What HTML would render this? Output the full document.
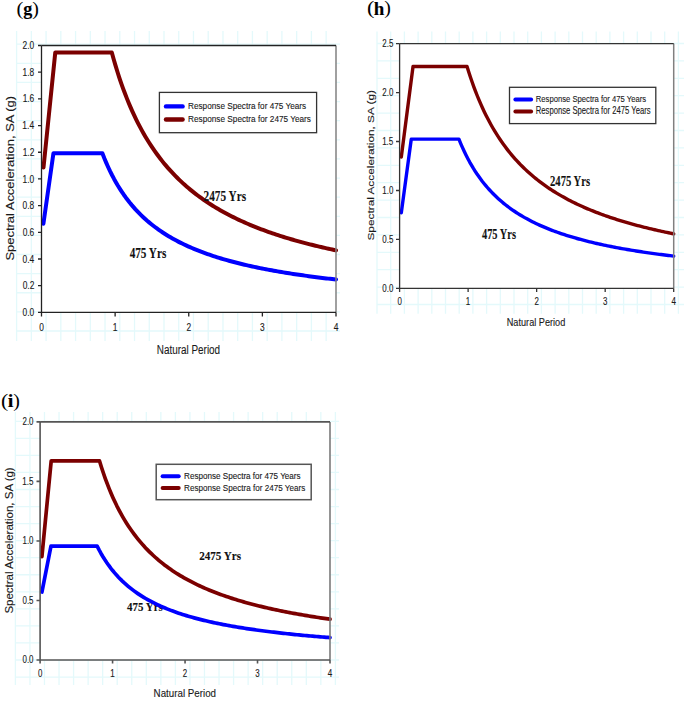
<!DOCTYPE html>
<html><head><meta charset="utf-8"><style>
html,body{margin:0;padding:0;background:#fff;}
svg{display:block;}
</style></head><body>
<svg width="685" height="703" viewBox="0 0 685 703">
<defs><filter id="soft" x="0" y="0" width="100%" height="100%" filterUnits="userSpaceOnUse"><feGaussianBlur stdDeviation="0.0"/></filter></defs>
<g>
<rect width="685" height="703" fill="#fff"/>
<path d="M16.6 31V341M31.34 31V341M46.08 31V341M60.82 31V341M75.56 31V341M90.3 31V341M105.04 31V341M119.78 31V341M134.52 31V341M149.26 31V341M164 31V341M178.74 31V341M193.48 31V341M208.22 31V341M222.96 31V341M237.7 31V341M252.44 31V341M267.18 31V341M281.92 31V341M296.66 31V341M311.4 31V341M326.14 31V341M16 44.2H340M16 63.32H340M16 82.44H340M16 101.56H340M16 120.68H340M16 139.8H340M16 158.92H340M16 178.04H340M16 197.16H340M16 216.28H340M16 235.4H340M16 254.52H340M16 273.64H340M16 292.76H340M16 311.88H340M16 331H340" stroke="#e4f9fb" stroke-width="1.3" fill="none"/>
<rect x="41.5" y="45.5" width="294.5" height="266.9" fill="#fff"/>
<text x="16.59" y="14.57" font-family='"Liberation Serif", serif' font-weight="normal" font-size="19.85" textLength="6.87" lengthAdjust="spacingAndGlyphs" fill="#000">(</text>
<text x="23.32" y="14.6" font-family='"Liberation Serif", serif' font-weight="bold" font-size="18.12" textLength="9.05" lengthAdjust="spacingAndGlyphs" fill="#000" stroke="#000" stroke-width="0.12">g</text>
<text x="32.36" y="14.57" font-family='"Liberation Serif", serif' font-weight="normal" font-size="19.85" textLength="6.61" lengthAdjust="spacingAndGlyphs" fill="#000">)</text>
<path d="M43.49 167.61 L55.27 52.57 L111.81 52.57 L113.68 59.30 L115.55 65.68 L117.42 71.76 L119.28 77.53 L121.15 83.04 L123.02 88.30 L124.89 93.32 L126.76 98.12 L128.63 102.72 L130.49 107.12 L132.36 111.34 L134.23 115.39 L136.10 119.28 L137.97 123.02 L139.84 126.62 L141.70 130.08 L143.57 133.42 L145.44 136.64 L147.31 139.74 L149.18 142.74 L151.04 145.63 L152.91 148.43 L154.78 151.13 L156.65 153.75 L158.52 156.28 L160.39 158.73 L162.25 161.11 L164.12 163.41 L165.99 165.65 L167.86 167.82 L169.73 169.93 L171.60 171.97 L173.46 173.96 L175.33 175.89 L177.20 177.77 L179.07 179.60 L180.94 181.38 L182.80 183.11 L184.67 184.80 L186.54 186.44 L188.41 188.04 L190.28 189.61 L192.15 191.13 L194.01 192.61 L195.88 194.06 L197.75 195.48 L199.62 196.86 L201.49 198.21 L203.36 199.53 L205.22 200.82 L207.09 202.07 L208.96 203.31 L210.83 204.51 L212.70 205.69 L214.56 206.84 L216.43 207.97 L218.30 209.07 L220.17 210.15 L222.04 211.21 L223.91 212.24 L225.77 213.26 L227.64 214.26 L229.51 215.23 L231.38 216.19 L233.25 217.12 L235.12 218.04 L236.98 218.94 L238.85 219.83 L240.72 220.70 L242.59 221.55 L244.46 222.39 L246.32 223.21 L248.19 224.01 L250.06 224.80 L251.93 225.58 L253.80 226.35 L255.67 227.10 L257.53 227.83 L259.40 228.56 L261.27 229.27 L263.14 229.97 L265.01 230.66 L266.88 231.34 L268.74 232.01 L270.61 232.66 L272.48 233.31 L274.35 233.94 L276.22 234.57 L278.08 235.18 L279.95 235.79 L281.82 236.38 L283.69 236.97 L285.56 237.55 L287.43 238.11 L289.29 238.67 L291.16 239.23 L293.03 239.77 L294.90 240.30 L296.77 240.83 L298.64 241.35 L300.50 241.86 L302.37 242.37 L304.24 242.87 L306.11 243.36 L307.98 243.84 L309.84 244.32 L311.71 244.79 L313.58 245.25 L315.45 245.71 L317.32 246.16 L319.19 246.61 L321.05 247.05 L322.92 247.48 L324.79 247.91 L326.66 248.33 L328.53 248.75 L330.40 249.16 L332.26 249.57 L334.13 249.97 L336.00 250.37" stroke="#7b0000" stroke-width="4.0" fill="none" stroke-linejoin="round" stroke-linecap="round"/>
<path d="M43.41 223.79 L53.43 153.33 L102.39 153.33 L104.33 158.26 L106.28 162.89 L108.23 167.25 L110.17 171.36 L112.12 175.25 L114.07 178.93 L116.02 182.42 L117.96 185.73 L119.91 188.87 L121.86 191.87 L123.80 194.72 L125.75 197.44 L127.70 200.03 L129.64 202.51 L131.59 204.89 L133.54 207.16 L135.48 209.34 L137.43 211.43 L139.38 213.44 L141.32 215.37 L143.27 217.23 L145.22 219.02 L147.16 220.74 L149.11 222.39 L151.06 223.99 L153.00 225.54 L154.95 227.03 L156.90 228.47 L158.84 229.86 L160.79 231.21 L162.74 232.51 L164.68 233.77 L166.63 235.00 L168.58 236.18 L170.52 237.33 L172.47 238.45 L174.42 239.53 L176.37 240.58 L178.31 241.61 L180.26 242.60 L182.21 243.56 L184.15 244.50 L186.10 245.42 L188.05 246.31 L189.99 247.17 L191.94 248.02 L193.89 248.84 L195.83 249.64 L197.78 250.42 L199.73 251.19 L201.67 251.93 L203.62 252.66 L205.57 253.37 L207.51 254.06 L209.46 254.73 L211.41 255.39 L213.35 256.04 L215.30 256.67 L217.25 257.29 L219.19 257.89 L221.14 258.48 L223.09 259.06 L225.03 259.63 L226.98 260.18 L228.93 260.72 L230.87 261.25 L232.82 261.78 L234.77 262.29 L236.71 262.79 L238.66 263.27 L240.61 263.76 L242.56 264.23 L244.50 264.69 L246.45 265.14 L248.40 265.59 L250.34 266.02 L252.29 266.45 L254.24 266.87 L256.18 267.28 L258.13 267.69 L260.08 268.09 L262.02 268.48 L263.97 268.86 L265.92 269.24 L267.86 269.61 L269.81 269.98 L271.76 270.34 L273.70 270.69 L275.65 271.04 L277.60 271.38 L279.54 271.71 L281.49 272.04 L283.44 272.37 L285.38 272.69 L287.33 273.00 L289.28 273.31 L291.22 273.61 L293.17 273.91 L295.12 274.21 L297.06 274.50 L299.01 274.79 L300.96 275.07 L302.90 275.35 L304.85 275.62 L306.80 275.89 L308.75 276.16 L310.69 276.42 L312.64 276.68 L314.59 276.93 L316.53 277.18 L318.48 277.43 L320.43 277.68 L322.37 277.92 L324.32 278.15 L326.27 278.39 L328.21 278.62 L330.16 278.85 L332.11 279.07 L334.05 279.29 L336.00 279.51" stroke="#0000ff" stroke-width="4.0" fill="none" stroke-linejoin="round" stroke-linecap="round"/>
<text x="203.53" y="200.5" font-family='"Liberation Serif", serif' font-weight="bold" font-size="15.41" textLength="42.54" lengthAdjust="spacingAndGlyphs" fill="#111" stroke="#111" stroke-width="0.12">2475 Yrs</text>
<text x="129.65" y="257.9" font-family='"Liberation Serif", serif' font-weight="bold" font-size="15.5" textLength="36.62" lengthAdjust="spacingAndGlyphs" fill="#111" stroke="#111" stroke-width="0.12">475 Yrs</text>
<path d="M336 45.5V312.4" stroke="#808080" stroke-width="1.5"/>
<path d="M41.5 45.5H336M41.5 45.5V312.4H336" stroke="#222" stroke-width="1.3" fill="none"/>
<text x="22.59" y="316" font-family='"Liberation Sans", sans-serif' font-weight="normal" font-size="10.6" textLength="11.64" lengthAdjust="spacingAndGlyphs" fill="#1a1a1a" stroke="#1a1a1a" stroke-width="0.12">0.0</text>
<text x="22.68" y="289.31" font-family='"Liberation Sans", sans-serif' font-weight="normal" font-size="10.6" textLength="11.64" lengthAdjust="spacingAndGlyphs" fill="#1a1a1a" stroke="#1a1a1a" stroke-width="0.12">0.2</text>
<text x="22.51" y="262.62" font-family='"Liberation Sans", sans-serif' font-weight="normal" font-size="10.6" textLength="11.64" lengthAdjust="spacingAndGlyphs" fill="#1a1a1a" stroke="#1a1a1a" stroke-width="0.12">0.4</text>
<text x="22.63" y="235.93" font-family='"Liberation Sans", sans-serif' font-weight="normal" font-size="10.6" textLength="11.64" lengthAdjust="spacingAndGlyphs" fill="#1a1a1a" stroke="#1a1a1a" stroke-width="0.12">0.6</text>
<text x="22.62" y="209.24" font-family='"Liberation Sans", sans-serif' font-weight="normal" font-size="10.6" textLength="11.64" lengthAdjust="spacingAndGlyphs" fill="#1a1a1a" stroke="#1a1a1a" stroke-width="0.12">0.8</text>
<text x="22.59" y="182.55" font-family='"Liberation Sans", sans-serif' font-weight="normal" font-size="10.6" textLength="11.64" lengthAdjust="spacingAndGlyphs" fill="#1a1a1a" stroke="#1a1a1a" stroke-width="0.12">1.0</text>
<text x="22.68" y="155.86" font-family='"Liberation Sans", sans-serif' font-weight="normal" font-size="10.6" textLength="11.64" lengthAdjust="spacingAndGlyphs" fill="#1a1a1a" stroke="#1a1a1a" stroke-width="0.12">1.2</text>
<text x="22.34" y="129.17" font-family='"Liberation Sans", sans-serif' font-weight="normal" font-size="10.76" textLength="11.81" lengthAdjust="spacingAndGlyphs" fill="#1a1a1a" stroke="#1a1a1a" stroke-width="0.12">1.4</text>
<text x="22.63" y="102.48" font-family='"Liberation Sans", sans-serif' font-weight="normal" font-size="10.6" textLength="11.64" lengthAdjust="spacingAndGlyphs" fill="#1a1a1a" stroke="#1a1a1a" stroke-width="0.12">1.6</text>
<text x="22.62" y="75.79" font-family='"Liberation Sans", sans-serif' font-weight="normal" font-size="10.6" textLength="11.64" lengthAdjust="spacingAndGlyphs" fill="#1a1a1a" stroke="#1a1a1a" stroke-width="0.12">1.8</text>
<text x="22.59" y="49.1" font-family='"Liberation Sans", sans-serif' font-weight="normal" font-size="10.6" textLength="11.64" lengthAdjust="spacingAndGlyphs" fill="#1a1a1a" stroke="#1a1a1a" stroke-width="0.12">2.0</text>
<text x="39.17" y="330.6" font-family='"Liberation Sans", sans-serif' font-weight="normal" font-size="10.6" textLength="4.66" lengthAdjust="spacingAndGlyphs" fill="#1a1a1a" stroke="#1a1a1a" stroke-width="0.12">0</text>
<text x="112.65" y="330.6" font-family='"Liberation Sans", sans-serif' font-weight="normal" font-size="10.76" textLength="4.73" lengthAdjust="spacingAndGlyphs" fill="#1a1a1a" stroke="#1a1a1a" stroke-width="0.12">1</text>
<text x="186.42" y="330.6" font-family='"Liberation Sans", sans-serif' font-weight="normal" font-size="10.6" textLength="4.66" lengthAdjust="spacingAndGlyphs" fill="#1a1a1a" stroke="#1a1a1a" stroke-width="0.12">2</text>
<text x="260.07" y="330.6" font-family='"Liberation Sans", sans-serif' font-weight="normal" font-size="10.6" textLength="4.66" lengthAdjust="spacingAndGlyphs" fill="#1a1a1a" stroke="#1a1a1a" stroke-width="0.12">3</text>
<text x="333.66" y="330.6" font-family='"Liberation Sans", sans-serif' font-weight="normal" font-size="10.76" textLength="4.73" lengthAdjust="spacingAndGlyphs" fill="#1a1a1a" stroke="#1a1a1a" stroke-width="0.12">4</text>
<path d="M38 312.4H41.5M38 285.71H41.5M38 259.02H41.5M38 232.33H41.5M38 205.64H41.5M38 178.95H41.5M38 152.26H41.5M38 125.57H41.5M38 98.88H41.5M38 72.19H41.5M38 45.5H41.5M41.5 312.4V316.4M115.12 312.4V316.4M188.75 312.4V316.4M262.38 312.4V316.4M336 312.4V316.4" stroke="#222" stroke-width="1.3" fill="none"/>
<text x="156.79" y="353.7" font-family='"Liberation Sans", sans-serif' font-weight="normal" font-size="13.66" textLength="63.35" lengthAdjust="spacingAndGlyphs" fill="#1a1a1a" stroke="#1a1a1a" stroke-width="0.12">Natural Period</text>
<text transform="translate(13.8,260) rotate(-90)" x="-0.58" y="0" font-family='"Liberation Sans", sans-serif' font-size="10.17" textLength="164.68" lengthAdjust="spacingAndGlyphs" fill="#1a1a1a" stroke="#1a1a1a" stroke-width="0.12">Spectral Acceleration, SA (g)</text>
<rect x="159.4" y="92.4" width="157.2" height="40.3" fill="#fff" stroke="#333" stroke-width="1.3"/>
<path d="M166 106.4H182.6" stroke="#0000ff" stroke-width="4.4" stroke-linecap="round"/>
<path d="M166 119.5H182.6" stroke="#7b0000" stroke-width="4.4" stroke-linecap="round"/>
<text x="188.03" y="109" font-family='"Liberation Sans", sans-serif' font-weight="normal" font-size="9.59" textLength="118.16" lengthAdjust="spacingAndGlyphs" fill="#1a1a1a" stroke="#1a1a1a" stroke-width="0.12">Response Spectra for 475 Years</text>
<text x="188.03" y="122.2" font-family='"Liberation Sans", sans-serif' font-weight="normal" font-size="9.59" textLength="122.96" lengthAdjust="spacingAndGlyphs" fill="#1a1a1a" stroke="#1a1a1a" stroke-width="0.12">Response Spectra for 2475 Years</text>
<path d="M377 31.5V313.7M390.7 31.5V313.7M404.4 31.5V313.7M418.1 31.5V313.7M431.8 31.5V313.7M445.5 31.5V313.7M459.2 31.5V313.7M472.9 31.5V313.7M486.6 31.5V313.7M500.3 31.5V313.7M514 31.5V313.7M527.7 31.5V313.7M541.4 31.5V313.7M555.1 31.5V313.7M568.8 31.5V313.7M582.5 31.5V313.7M596.2 31.5V313.7M609.9 31.5V313.7M623.6 31.5V313.7M637.3 31.5V313.7M651 31.5V313.7M664.7 31.5V313.7M678.4 31.5V313.7M376.5 43.5H684M376.5 60.9H684M376.5 78.3H684M376.5 95.7H684M376.5 113.1H684M376.5 130.5H684M376.5 147.9H684M376.5 165.3H684M376.5 182.7H684M376.5 200.1H684M376.5 217.5H684M376.5 234.9H684M376.5 252.3H684M376.5 269.7H684M376.5 287.1H684M376.5 304.5H684" stroke="#e4f9fb" stroke-width="1.3" fill="none"/>
<rect x="399.6" y="43.6" width="274.1" height="244.8" fill="#fff"/>
<text x="367.12" y="14.47" font-family='"Liberation Serif", serif' font-weight="normal" font-size="19.41" textLength="7.39" lengthAdjust="spacingAndGlyphs" fill="#000">(</text>
<text x="373.73" y="14.5" font-family='"Liberation Serif", serif' font-weight="bold" font-size="18.02" textLength="10.56" lengthAdjust="spacingAndGlyphs" fill="#000" stroke="#000" stroke-width="0.12">h</text>
<text x="384.26" y="14.47" font-family='"Liberation Serif", serif' font-weight="normal" font-size="19.41" textLength="6.61" lengthAdjust="spacingAndGlyphs" fill="#000">)</text>
<path d="M401.31 156.99 L413.03 66.51 L467.03 66.51 L468.75 72.04 L470.47 77.30 L472.20 82.31 L473.92 87.08 L475.64 91.64 L477.36 96.00 L479.08 100.17 L480.81 104.16 L482.53 107.99 L484.25 111.66 L485.97 115.18 L487.70 118.57 L489.42 121.82 L491.14 124.96 L492.86 127.98 L494.58 130.89 L496.31 133.69 L498.03 136.40 L499.75 139.01 L501.47 141.54 L503.20 143.98 L504.92 146.34 L506.64 148.63 L508.36 150.84 L510.09 152.98 L511.81 155.06 L513.53 157.08 L515.25 159.03 L516.97 160.93 L518.70 162.77 L520.42 164.57 L522.14 166.31 L523.86 168.00 L525.59 169.64 L527.31 171.25 L529.03 172.80 L530.75 174.32 L532.47 175.80 L534.20 177.24 L535.92 178.65 L537.64 180.02 L539.36 181.35 L541.09 182.65 L542.81 183.93 L544.53 185.17 L546.25 186.38 L547.97 187.56 L549.70 188.72 L551.42 189.85 L553.14 190.96 L554.86 192.04 L556.59 193.10 L558.31 194.13 L560.03 195.14 L561.75 196.13 L563.48 197.10 L565.20 198.05 L566.92 198.98 L568.64 199.89 L570.36 200.79 L572.09 201.66 L573.81 202.52 L575.53 203.36 L577.25 204.18 L578.98 204.99 L580.70 205.78 L582.42 206.56 L584.14 207.33 L585.86 208.08 L587.59 208.81 L589.31 209.53 L591.03 210.24 L592.75 210.94 L594.48 211.63 L596.20 212.30 L597.92 212.96 L599.64 213.61 L601.37 214.25 L603.09 214.87 L604.81 215.49 L606.53 216.10 L608.25 216.70 L609.98 217.28 L611.70 217.86 L613.42 218.43 L615.14 218.99 L616.87 219.54 L618.59 220.08 L620.31 220.61 L622.03 221.14 L623.75 221.65 L625.48 222.16 L627.20 222.66 L628.92 223.16 L630.64 223.64 L632.37 224.12 L634.09 224.59 L635.81 225.06 L637.53 225.52 L639.25 225.97 L640.98 226.42 L642.70 226.86 L644.42 227.29 L646.14 227.72 L647.87 228.14 L649.59 228.55 L651.31 228.96 L653.03 229.36 L654.76 229.76 L656.48 230.16 L658.20 230.54 L659.92 230.93 L661.64 231.30 L663.37 231.68 L665.09 232.05 L666.81 232.41 L668.53 232.77 L670.26 233.12 L671.98 233.47 L673.70 233.82" stroke="#7b0000" stroke-width="3.4" fill="none" stroke-linejoin="round" stroke-linecap="round"/>
<path d="M401.31 212.81 L411.25 139.17 L458.94 139.17 L460.73 143.54 L462.52 147.66 L464.31 151.55 L466.10 155.23 L467.89 158.72 L469.68 162.04 L471.47 165.18 L473.26 168.18 L475.05 171.03 L476.84 173.75 L478.63 176.34 L480.42 178.82 L482.21 181.20 L484.00 183.47 L485.79 185.65 L487.58 187.74 L489.37 189.75 L491.16 191.68 L492.95 193.53 L494.74 195.31 L496.53 197.03 L498.31 198.69 L500.10 200.29 L501.89 201.83 L503.68 203.32 L505.47 204.76 L507.26 206.15 L509.05 207.49 L510.84 208.79 L512.63 210.05 L514.42 211.27 L516.21 212.46 L518.00 213.61 L519.79 214.72 L521.58 215.80 L523.37 216.85 L525.16 217.87 L526.95 218.86 L528.74 219.82 L530.53 220.76 L532.32 221.67 L534.11 222.56 L535.90 223.43 L537.69 224.27 L539.48 225.09 L541.27 225.89 L543.06 226.67 L544.85 227.43 L546.64 228.17 L548.42 228.90 L550.21 229.60 L552.00 230.29 L553.79 230.97 L555.58 231.63 L557.37 232.27 L559.16 232.90 L560.95 233.52 L562.74 234.12 L564.53 234.71 L566.32 235.28 L568.11 235.85 L569.90 236.40 L571.69 236.94 L573.48 237.47 L575.27 237.99 L577.06 238.50 L578.85 239.00 L580.64 239.48 L582.43 239.96 L584.22 240.43 L586.01 240.89 L587.80 241.34 L589.59 241.79 L591.38 242.22 L593.17 242.65 L594.96 243.07 L596.75 243.48 L598.53 243.88 L600.32 244.28 L602.11 244.67 L603.90 245.05 L605.69 245.43 L607.48 245.80 L609.27 246.16 L611.06 246.52 L612.85 246.87 L614.64 247.22 L616.43 247.56 L618.22 247.89 L620.01 248.22 L621.80 248.55 L623.59 248.86 L625.38 249.18 L627.17 249.49 L628.96 249.79 L630.75 250.09 L632.54 250.38 L634.33 250.67 L636.12 250.96 L637.91 251.24 L639.70 251.52 L641.49 251.79 L643.28 252.06 L645.07 252.32 L646.86 252.58 L648.64 252.84 L650.43 253.10 L652.22 253.35 L654.01 253.59 L655.80 253.83 L657.59 254.07 L659.38 254.31 L661.17 254.54 L662.96 254.77 L664.75 255.00 L666.54 255.23 L668.33 255.45 L670.12 255.66 L671.91 255.88 L673.70 256.09" stroke="#0000ff" stroke-width="3.4" fill="none" stroke-linejoin="round" stroke-linecap="round"/>
<text x="550.06" y="186" font-family='"Liberation Serif", serif' font-weight="bold" font-size="13.89" textLength="40.1" lengthAdjust="spacingAndGlyphs" fill="#111" stroke="#111" stroke-width="0.12">2475 Yrs</text>
<text x="481.96" y="238.6" font-family='"Liberation Serif", serif' font-weight="bold" font-size="13.83" textLength="33.99" lengthAdjust="spacingAndGlyphs" fill="#111" stroke="#111" stroke-width="0.12">475 Yrs</text>
<path d="M673.7 43.6V288.4" stroke="#808080" stroke-width="1.5"/>
<path d="M399.6 43.6H673.7M399.6 43.6V288.4H673.7" stroke="#333" stroke-width="1.3" fill="none"/>
<text x="382.3" y="291.8" font-family='"Liberation Sans", sans-serif' font-weight="normal" font-size="10.03" textLength="11.01" lengthAdjust="spacingAndGlyphs" fill="#1a1a1a" stroke="#1a1a1a" stroke-width="0.12">0.0</text>
<text x="382.32" y="242.84" font-family='"Liberation Sans", sans-serif' font-weight="normal" font-size="10.03" textLength="11.01" lengthAdjust="spacingAndGlyphs" fill="#1a1a1a" stroke="#1a1a1a" stroke-width="0.12">0.5</text>
<text x="382.3" y="193.88" font-family='"Liberation Sans", sans-serif' font-weight="normal" font-size="10.03" textLength="11.01" lengthAdjust="spacingAndGlyphs" fill="#1a1a1a" stroke="#1a1a1a" stroke-width="0.12">1.0</text>
<text x="382.16" y="144.92" font-family='"Liberation Sans", sans-serif' font-weight="normal" font-size="10.17" textLength="11.17" lengthAdjust="spacingAndGlyphs" fill="#1a1a1a" stroke="#1a1a1a" stroke-width="0.12">1.5</text>
<text x="382.3" y="95.96" font-family='"Liberation Sans", sans-serif' font-weight="normal" font-size="10.03" textLength="11.01" lengthAdjust="spacingAndGlyphs" fill="#1a1a1a" stroke="#1a1a1a" stroke-width="0.12">2.0</text>
<text x="382.32" y="47" font-family='"Liberation Sans", sans-serif' font-weight="normal" font-size="10.03" textLength="11.01" lengthAdjust="spacingAndGlyphs" fill="#1a1a1a" stroke="#1a1a1a" stroke-width="0.12">2.5</text>
<text x="397.4" y="305" font-family='"Liberation Sans", sans-serif' font-weight="normal" font-size="10.03" textLength="4.4" lengthAdjust="spacingAndGlyphs" fill="#1a1a1a" stroke="#1a1a1a" stroke-width="0.12">0</text>
<text x="465.78" y="305" font-family='"Liberation Sans", sans-serif' font-weight="normal" font-size="10.17" textLength="4.47" lengthAdjust="spacingAndGlyphs" fill="#1a1a1a" stroke="#1a1a1a" stroke-width="0.12">1</text>
<text x="534.45" y="305" font-family='"Liberation Sans", sans-serif' font-weight="normal" font-size="10.03" textLength="4.4" lengthAdjust="spacingAndGlyphs" fill="#1a1a1a" stroke="#1a1a1a" stroke-width="0.12">2</text>
<text x="603" y="305" font-family='"Liberation Sans", sans-serif' font-weight="normal" font-size="10.03" textLength="4.4" lengthAdjust="spacingAndGlyphs" fill="#1a1a1a" stroke="#1a1a1a" stroke-width="0.12">3</text>
<text x="671.49" y="305" font-family='"Liberation Sans", sans-serif' font-weight="normal" font-size="10.17" textLength="4.47" lengthAdjust="spacingAndGlyphs" fill="#1a1a1a" stroke="#1a1a1a" stroke-width="0.12">4</text>
<path d="M396 288.4H399.6M396 239.44H399.6M396 190.48H399.6M396 141.52H399.6M396 92.56H399.6M396 43.6H399.6M399.6 288.4V291.9M468.12 288.4V291.9M536.65 288.4V291.9M605.18 288.4V291.9M673.7 288.4V291.9" stroke="#333" stroke-width="1.3" fill="none"/>
<text x="506.75" y="325.6" font-family='"Liberation Sans", sans-serif' font-weight="normal" font-size="11.34" textLength="58.54" lengthAdjust="spacingAndGlyphs" fill="#1a1a1a" stroke="#1a1a1a" stroke-width="0.12">Natural Period</text>
<text transform="translate(374.1,240) rotate(-90)" x="-0.53" y="0" font-family='"Liberation Sans", sans-serif' font-size="9.45" textLength="150.46" lengthAdjust="spacingAndGlyphs" fill="#1a1a1a" stroke="#1a1a1a" stroke-width="0.12">Spectral Acceleration, SA (g)</text>
<rect x="509.5" y="87.3" width="146.3" height="36.3" fill="#fff" stroke="#333" stroke-width="1.3"/>
<path d="M515.4 99.5H531.1" stroke="#0000ff" stroke-width="4.0" stroke-linecap="round"/>
<path d="M515.4 111.6H531.1" stroke="#7b0000" stroke-width="4.0" stroke-linecap="round"/>
<text x="535.78" y="102.3" font-family='"Liberation Sans", sans-serif' font-weight="normal" font-size="9.88" textLength="110.4" lengthAdjust="spacingAndGlyphs" fill="#1a1a1a" stroke="#1a1a1a" stroke-width="0.12">Response Spectra for 475 Years</text>
<text x="535.77" y="114.2" font-family='"Liberation Sans", sans-serif' font-weight="normal" font-size="10.03" textLength="114.8" lengthAdjust="spacingAndGlyphs" fill="#1a1a1a" stroke="#1a1a1a" stroke-width="0.12">Response Spectra for 2475 Years</text>
<path d="M15.4 412V684.9M29.95 412V684.9M44.49 412V684.9M59.03 412V684.9M73.58 412V684.9M88.12 412V684.9M102.67 412V684.9M117.22 412V684.9M131.76 412V684.9M146.31 412V684.9M160.85 412V684.9M175.4 412V684.9M189.94 412V684.9M204.49 412V684.9M219.03 412V684.9M233.58 412V684.9M248.12 412V684.9M262.66 412V684.9M277.21 412V684.9M291.75 412V684.9M306.3 412V684.9M320.84 412V684.9M335.39 412V684.9M15 421.3H339M15 438.35H339M15 455.4H339M15 472.45H339M15 489.5H339M15 506.55H339M15 523.6H339M15 540.65H339M15 557.7H339M15 574.75H339M15 591.8H339M15 608.85H339M15 625.9H339M15 642.95H339M15 660H339M15 677.05H339" stroke="#e4f9fb" stroke-width="1.3" fill="none"/>
<rect x="40.1" y="421.9" width="289.9" height="238.1" fill="#fff"/>
<text x="0.94" y="406.62" font-family='"Liberation Serif", serif' font-weight="normal" font-size="19.63" textLength="7.26" lengthAdjust="spacingAndGlyphs" fill="#000">(</text>
<text x="7.75" y="406.6" font-family='"Liberation Serif", serif' font-weight="bold" font-size="19.17" textLength="5.64" lengthAdjust="spacingAndGlyphs" fill="#000" stroke="#000" stroke-width="0.12">i</text>
<text x="13.36" y="406.62" font-family='"Liberation Serif", serif' font-weight="normal" font-size="19.63" textLength="6.61" lengthAdjust="spacingAndGlyphs" fill="#000">)</text>
<text x="199.14" y="560.1" font-family='"Liberation Serif", serif' font-weight="bold" font-size="13.14" textLength="41.93" lengthAdjust="spacingAndGlyphs" fill="#111" stroke="#111" stroke-width="0.12">2475 Yrs</text>
<text x="127.05" y="611" font-family='"Liberation Serif", serif' font-weight="bold" font-size="13.37" textLength="35.71" lengthAdjust="spacingAndGlyphs" fill="#111" stroke="#111" stroke-width="0.12">475 Yrs</text>
<path d="M41.91 556.55 L51.19 460.95 L99.53 460.95 L101.45 467.18 L103.37 473.03 L105.29 478.54 L107.21 483.73 L109.13 488.64 L111.05 493.28 L112.97 497.67 L114.89 501.84 L116.81 505.80 L118.74 509.56 L120.66 513.15 L122.58 516.57 L124.50 519.83 L126.42 522.95 L128.34 525.94 L130.26 528.79 L132.18 531.53 L134.10 534.15 L136.02 536.67 L137.94 539.09 L139.86 541.42 L141.78 543.66 L143.70 545.82 L145.62 547.90 L147.54 549.90 L149.46 551.83 L151.39 553.70 L153.31 555.50 L155.23 557.25 L157.15 558.93 L159.07 560.57 L160.99 562.14 L162.91 563.68 L164.83 565.16 L166.75 566.60 L168.67 567.99 L170.59 569.35 L172.51 570.66 L174.43 571.94 L176.35 573.18 L178.27 574.39 L180.19 575.56 L182.11 576.70 L184.04 577.81 L185.96 578.90 L187.88 579.95 L189.80 580.98 L191.72 581.98 L193.64 582.95 L195.56 583.91 L197.48 584.83 L199.40 585.74 L201.32 586.63 L203.24 587.49 L205.16 588.33 L207.08 589.16 L209.00 589.96 L210.92 590.75 L212.84 591.52 L214.76 592.27 L216.69 593.01 L218.61 593.73 L220.53 594.44 L222.45 595.13 L224.37 595.80 L226.29 596.46 L228.21 597.11 L230.13 597.75 L232.05 598.37 L233.97 598.98 L235.89 599.58 L237.81 600.17 L239.73 600.74 L241.65 601.31 L243.57 601.86 L245.49 602.41 L247.41 602.94 L249.34 603.46 L251.26 603.98 L253.18 604.48 L255.10 604.98 L257.02 605.47 L258.94 605.94 L260.86 606.41 L262.78 606.88 L264.70 607.33 L266.62 607.78 L268.54 608.22 L270.46 608.65 L272.38 609.07 L274.30 609.49 L276.22 609.90 L278.14 610.31 L280.06 610.70 L281.99 611.09 L283.91 611.48 L285.83 611.86 L287.75 612.23 L289.67 612.60 L291.59 612.96 L293.51 613.32 L295.43 613.67 L297.35 614.02 L299.27 614.36 L301.19 614.69 L303.11 615.02 L305.03 615.35 L306.95 615.67 L308.87 615.99 L310.79 616.30 L312.71 616.61 L314.64 616.91 L316.56 617.21 L318.48 617.51 L320.40 617.80 L322.32 618.08 L324.24 618.37 L326.16 618.65 L328.08 618.92 L330.00 619.19" stroke="#7b0000" stroke-width="3.7" fill="none" stroke-linejoin="round" stroke-linecap="round"/>
<path d="M41.91 592.02 L50.97 546.19 L97.14 546.19 L99.08 549.93 L101.02 553.44 L102.96 556.73 L104.90 559.82 L106.84 562.73 L108.78 565.48 L110.72 568.08 L112.66 570.54 L114.60 572.87 L116.54 575.08 L118.48 577.18 L120.42 579.18 L122.36 581.09 L124.31 582.91 L126.25 584.64 L128.19 586.30 L130.13 587.89 L132.07 589.41 L134.01 590.87 L135.95 592.27 L137.89 593.62 L139.83 594.91 L141.77 596.15 L143.71 597.35 L145.65 598.50 L147.59 599.61 L149.53 600.68 L151.47 601.71 L153.41 602.71 L155.35 603.68 L157.29 604.61 L159.23 605.51 L161.17 606.38 L163.12 607.23 L165.06 608.05 L167.00 608.84 L168.94 609.61 L170.88 610.36 L172.82 611.09 L174.76 611.79 L176.70 612.48 L178.64 613.14 L180.58 613.79 L182.52 614.42 L184.46 615.03 L186.40 615.63 L188.34 616.21 L190.28 616.78 L192.22 617.33 L194.16 617.86 L196.10 618.39 L198.04 618.90 L199.99 619.40 L201.93 619.89 L203.87 620.36 L205.81 620.82 L207.75 621.28 L209.69 621.72 L211.63 622.15 L213.57 622.58 L215.51 622.99 L217.45 623.40 L219.39 623.79 L221.33 624.18 L223.27 624.56 L225.21 624.93 L227.15 625.30 L229.09 625.65 L231.03 626.00 L232.97 626.34 L234.91 626.68 L236.86 627.01 L238.80 627.33 L240.74 627.65 L242.68 627.95 L244.62 628.26 L246.56 628.56 L248.50 628.85 L250.44 629.14 L252.38 629.42 L254.32 629.70 L256.26 629.97 L258.20 630.24 L260.14 630.50 L262.08 630.76 L264.02 631.01 L265.96 631.26 L267.90 631.50 L269.84 631.74 L271.78 631.98 L273.72 632.21 L275.67 632.44 L277.61 632.67 L279.55 632.89 L281.49 633.11 L283.43 633.32 L285.37 633.53 L287.31 633.74 L289.25 633.95 L291.19 634.15 L293.13 634.34 L295.07 634.54 L297.01 634.73 L298.95 634.92 L300.89 635.11 L302.83 635.29 L304.77 635.47 L306.71 635.65 L308.65 635.83 L310.59 636.00 L312.54 636.17 L314.48 636.34 L316.42 636.51 L318.36 636.67 L320.30 636.83 L322.24 636.99 L324.18 637.15 L326.12 637.30 L328.06 637.46 L330.00 637.61" stroke="#0000ff" stroke-width="3.7" fill="none" stroke-linejoin="round" stroke-linecap="round"/>
<path d="M330 421.9V660" stroke="#7a7a7a" stroke-width="1.6"/>
<path d="M40.1 421.9H330M40.1 421.9V660H330" stroke="#555" stroke-width="1.6" fill="none"/>
<text x="22.5" y="663.4" font-family='"Liberation Sans", sans-serif' font-weight="normal" font-size="10.03" textLength="11.01" lengthAdjust="spacingAndGlyphs" fill="#1a1a1a" stroke="#1a1a1a" stroke-width="0.12">0.0</text>
<text x="22.52" y="603.88" font-family='"Liberation Sans", sans-serif' font-weight="normal" font-size="10.03" textLength="11.01" lengthAdjust="spacingAndGlyphs" fill="#1a1a1a" stroke="#1a1a1a" stroke-width="0.12">0.5</text>
<text x="22.5" y="544.35" font-family='"Liberation Sans", sans-serif' font-weight="normal" font-size="10.03" textLength="11.01" lengthAdjust="spacingAndGlyphs" fill="#1a1a1a" stroke="#1a1a1a" stroke-width="0.12">1.0</text>
<text x="22.36" y="484.82" font-family='"Liberation Sans", sans-serif' font-weight="normal" font-size="10.17" textLength="11.17" lengthAdjust="spacingAndGlyphs" fill="#1a1a1a" stroke="#1a1a1a" stroke-width="0.12">1.5</text>
<text x="22.5" y="425.3" font-family='"Liberation Sans", sans-serif' font-weight="normal" font-size="10.03" textLength="11.01" lengthAdjust="spacingAndGlyphs" fill="#1a1a1a" stroke="#1a1a1a" stroke-width="0.12">2.0</text>
<text x="37.9" y="676.7" font-family='"Liberation Sans", sans-serif' font-weight="normal" font-size="10.03" textLength="4.4" lengthAdjust="spacingAndGlyphs" fill="#1a1a1a" stroke="#1a1a1a" stroke-width="0.12">0</text>
<text x="110.23" y="676.7" font-family='"Liberation Sans", sans-serif' font-weight="normal" font-size="10.17" textLength="4.47" lengthAdjust="spacingAndGlyphs" fill="#1a1a1a" stroke="#1a1a1a" stroke-width="0.12">1</text>
<text x="182.85" y="676.7" font-family='"Liberation Sans", sans-serif' font-weight="normal" font-size="10.03" textLength="4.4" lengthAdjust="spacingAndGlyphs" fill="#1a1a1a" stroke="#1a1a1a" stroke-width="0.12">2</text>
<text x="255.35" y="676.7" font-family='"Liberation Sans", sans-serif' font-weight="normal" font-size="10.03" textLength="4.4" lengthAdjust="spacingAndGlyphs" fill="#1a1a1a" stroke="#1a1a1a" stroke-width="0.12">3</text>
<text x="327.79" y="676.7" font-family='"Liberation Sans", sans-serif' font-weight="normal" font-size="10.17" textLength="4.47" lengthAdjust="spacingAndGlyphs" fill="#1a1a1a" stroke="#1a1a1a" stroke-width="0.12">4</text>
<path d="M36.5 660H40.1M36.5 600.48H40.1M36.5 540.95H40.1M36.5 481.42H40.1M36.5 421.9H40.1M40.1 660V663.5M112.57 660V663.5M185.05 660V663.5M257.52 660V663.5M330 660V663.5" stroke="#555" stroke-width="1.6" fill="none"/>
<text x="153.6" y="696.7" font-family='"Liberation Sans", sans-serif' font-weight="normal" font-size="11.05" textLength="62.43" lengthAdjust="spacingAndGlyphs" fill="#1a1a1a" stroke="#1a1a1a" stroke-width="0.12">Natural Period</text>
<text transform="translate(13.2,613.1) rotate(-90)" x="-0.52" y="0" font-family='"Liberation Sans", sans-serif' font-size="10.47" textLength="146.32" lengthAdjust="spacingAndGlyphs" fill="#1a1a1a" stroke="#1a1a1a" stroke-width="0.12">Spectral Acceleration, SA (g)</text>
<rect x="156.2" y="464.3" width="155" height="35.4" fill="#fff" stroke="#555" stroke-width="1.5"/>
<path d="M162.6 476.3H178.7" stroke="#0000ff" stroke-width="4.0" stroke-linecap="round"/>
<path d="M162.6 488H178.7" stroke="#7b0000" stroke-width="4.0" stroke-linecap="round"/>
<text x="184.04" y="478.7" font-family='"Liberation Sans", sans-serif' font-weight="normal" font-size="9.01" textLength="116.55" lengthAdjust="spacingAndGlyphs" fill="#1a1a1a" stroke="#1a1a1a" stroke-width="0.12">Response Spectra for 475 Years</text>
<text x="184.04" y="490.8" font-family='"Liberation Sans", sans-serif' font-weight="normal" font-size="9.59" textLength="121.25" lengthAdjust="spacingAndGlyphs" fill="#1a1a1a" stroke="#1a1a1a" stroke-width="0.12">Response Spectra for 2475 Years</text>
</g>
</svg>
</body></html>
